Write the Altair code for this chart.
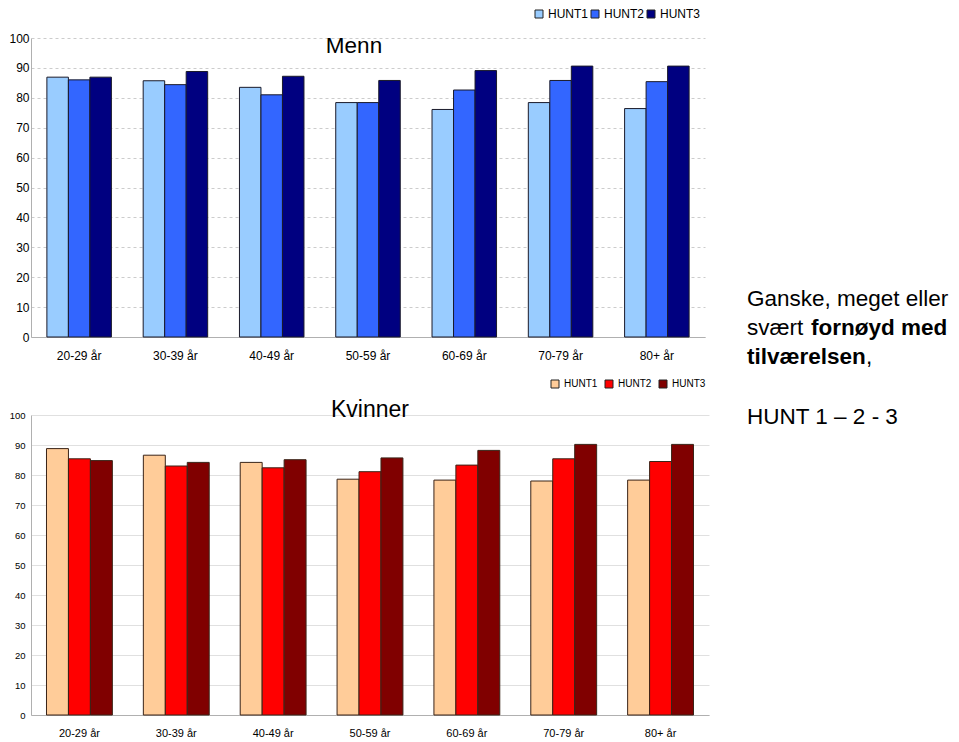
import altair as alt
import pandas as pd

groups = ["20-29 år", "30-39 år", "40-49 år", "50-59 år", "60-69 år", "70-79 år", "80+ år"]
series = ["HUNT1", "HUNT2", "HUNT3"]

menn_h1 = [86.9, 85.7, 83.5, 78.4, 76.1, 78.4, 76.4]
menn_h2 = [86.0, 84.4, 81.0, 78.4, 82.6, 85.8, 85.4]
menn_h3 = [86.9, 88.8, 87.2, 85.8, 89.1, 90.6, 90.6]

kvinner_h1 = [88.8, 86.6, 84.2, 78.6, 78.3, 78.0, 78.3]
kvinner_h2 = [85.4, 83.0, 82.4, 81.1, 83.3, 85.4, 84.5]
kvinner_h3 = [84.8, 84.2, 85.1, 85.7, 88.2, 90.2, 90.2]

y_ticks = [0, 10, 20, 30, 40, 50, 60, 70, 80, 90, 100]

menn_colors = ["#99ccff", "#3366ff", "#000080"]
kvinner_colors = ["#ffcc99", "#ff0000", "#800000"]

menn_title = ["Menn"]
kvinner_title = ["Kvinner"]
side_line1 = ["Ganske, meget eller"]
side_line2_normal = ["svært "]
side_line2_bold = ["fornøyd med"]
side_line3_bold = ["tilværelsen"]
side_line3_normal = [","]
side_line4 = ["HUNT 1 – 2 - 3"]

FONT = "Liberation Sans"


def long_table(h1, h2, h3):
    rows = []
    for s, vals in zip(series, [h1, h2, h3]):
        for g, v in zip(groups, vals):
            rows.append({"group": g, "series": s, "value": v})
    return pd.DataFrame(rows)


def text_layer(values, x, y, size, weight="normal", align="left"):
    return alt.Chart(pd.DataFrame({"t": values})).mark_text(
        font=FONT, fontSize=size, fontWeight=weight, align=align,
        baseline="alphabetic", color="#000000"
    ).encode(text="t:N", x=alt.value(x), y=alt.value(y))


# ---------- top panel: Menn ----------
df_m = long_table(menn_h1, menn_h2, menn_h3)
bars_m = alt.Chart(df_m).mark_bar(stroke="#1a1a2a", strokeWidth=1).encode(
    x=alt.X("group:N", sort=groups,
            scale=alt.Scale(paddingInner=0.33, paddingOuter=0.165),
            axis=alt.Axis(title=None, labelAngle=0, labelFontSize=12, labelPadding=13,
                          ticks=False, tickSize=0, domainColor="#b0b0b0", grid=False)),
    xOffset=alt.XOffset("series:N", sort=series,
                        scale=alt.Scale(paddingInner=0, paddingOuter=0)),
    y=alt.Y("value:Q", scale=alt.Scale(domain=[0, 100], nice=False),
            axis=alt.Axis(title=None, values=y_ticks, labelFontSize=12, labelPadding=2,
                          ticks=False, tickSize=0, domainColor="#b0b0b0",
                          gridColor="#cccccc", gridDash=[3, 3])),
    color=alt.Color("series:N", sort=series,
                    scale=alt.Scale(domain=series, range=menn_colors),
                    legend=alt.Legend(title=None, orient="none", legendX=502, legendY=-30,
                                      direction="horizontal", symbolType="square",
                                      symbolSize=64, symbolStrokeColor="#222222",
                                      symbolStrokeWidth=1, labelFontSize=12,
                                      labelOffset=3, columnPadding=0, padding=0)),
)
top = alt.layer(
    bars_m,
    text_layer(menn_title, 323, 15, 22.5, align="center"),
).properties(width=674, height=299)

# ---------- bottom panel: Kvinner ----------
df_k = long_table(kvinner_h1, kvinner_h2, kvinner_h3)
bars_k = alt.Chart(df_k).mark_bar(stroke="#3a2418", strokeWidth=1).encode(
    x=alt.X("group:N", sort=groups,
            scale=alt.Scale(paddingInner=0.32, paddingOuter=0.16),
            axis=alt.Axis(title=None, labelAngle=0, labelFontSize=11, labelPadding=12,
                          ticks=False, tickSize=0, domainColor="#b0b0b0", grid=False)),
    xOffset=alt.XOffset("series:N", sort=series,
                        scale=alt.Scale(paddingInner=0, paddingOuter=0)),
    y=alt.Y("value:Q", scale=alt.Scale(domain=[0, 100], nice=False),
            axis=alt.Axis(title=None, values=y_ticks, labelFontSize=9.5, labelPadding=6,
                          ticks=False, tickSize=0, domainColor="#b0b0b0",
                          gridColor="#e0e0e0")),
    color=alt.Color("series:N", sort=series,
                    scale=alt.Scale(domain=series, range=kvinner_colors),
                    legend=alt.Legend(title=None, orient="none", legendX=519, legendY=-36,
                                      direction="horizontal", symbolType="square",
                                      symbolSize=64, symbolStrokeColor="#222222",
                                      symbolStrokeWidth=1, labelFontSize=10,
                                      labelOffset=4, columnPadding=5, padding=0)),
)
bottom = alt.layer(
    bars_k,
    text_layer(kvinner_title, 339, 2, 23, align="center"),
    text_layer(side_line1, 716, -109, 22.5),
    text_layer(side_line2_normal, 716, -80, 22.5),
    text_layer(side_line2_bold, 780, -80, 22.5, weight="bold"),
    text_layer(side_line3_bold, 716, -51, 22.5, weight="bold"),
    text_layer(side_line3_normal, 835, -51, 22.5),
    text_layer(side_line4, 716, 9, 22.5),
).properties(width=678, height=300)

chart = alt.vconcat(top, bottom, spacing=78, bounds="flush", padding=0).resolve_scale(
    x="independent", y="independent", color="independent", xOffset="independent"
).resolve_legend(color="independent").configure(
    font=FONT
).configure_view(strokeWidth=0).configure_axis(
    labelFont=FONT, labelColor="#000000"
).configure_legend(labelFont=FONT, labelColor="#000000")

chart.save("out.html", embed_options={"renderer": "svg", "actions": False})
